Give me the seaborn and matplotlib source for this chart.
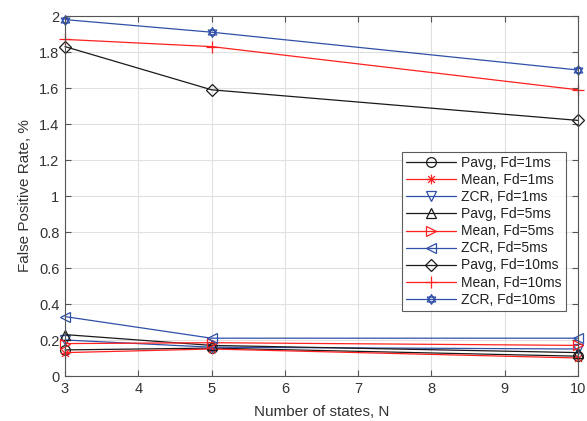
import matplotlib
matplotlib.use("Agg")
import matplotlib.pyplot as plt
from matplotlib.path import Path
import seaborn as sns
import pandas as pd

N = [3, 5, 10]
labels = ["Pavg, Fd=1ms", "Mean, Fd=1ms", "ZCR, Fd=1ms",
          "Pavg, Fd=5ms", "Mean, Fd=5ms", "ZCR, Fd=5ms",
          "Pavg, Fd=10ms", "Mean, Fd=10ms", "ZCR, Fd=10ms"]
pavg_1 = [0.145, 0.155, 0.11]
mean_1 = [0.13, 0.15, 0.10]
zcr_1 = [0.20, 0.16, 0.15]
pavg_5 = [0.23, 0.17, 0.13]
mean_5 = [0.18, 0.185, 0.17]
zcr_5 = [0.33, 0.21, 0.21]
pavg_10 = [1.83, 1.59, 1.42]
mean_10 = [1.87, 1.83, 1.59]
zcr_10 = [1.98, 1.91, 1.70]
series = [pavg_1, mean_1, zcr_1, pavg_5, mean_5, zcr_5, pavg_10, mean_10, zcr_10]

BLACK = "#1a1a1a"
RED = "#ff2020"
BLUE = "#3050a8"
colors = [BLACK, RED, BLUE] * 3

# hexagram marker (two overlapping triangles)
up = [(0, 1), (-0.866, -0.5), (0.866, -0.5), (0, 1)]
dn = [(0, -1), (-0.866, 0.5), (0.866, 0.5), (0, -1)]
hexagram = Path(up + dn,
                [Path.MOVETO, Path.LINETO, Path.LINETO, Path.CLOSEPOLY] * 2)
# asterisk marker (MATLAB '*')
d = 0.707
asterisk = Path([(-1, 0), (1, 0), (0, -1), (0, 1), (-d, -d), (d, d), (-d, d), (d, -d)],
                [Path.MOVETO, Path.LINETO] * 4)
markers = ["o", asterisk, "v", "^", ">", "<", "D", "+", hexagram]
msizes = [7, 7, 7, 7, 7, 7, 6, 8, 7]

sns.set_style("white")
plt.rcParams['font.family'] = ['Liberation Sans', 'DejaVu Sans']

fig = plt.figure(figsize=(5.87, 4.21), dpi=100)
ax = fig.add_axes([65 / 587, 1 - 376 / 421, (578 - 65) / 587, (376 - 16) / 421])

for vals, lab, c, m, ms in zip(series, labels, colors, markers, msizes):
    df = pd.DataFrame({"N": N, "FPR": vals})
    sns.lineplot(data=df, x="N", y="FPR", ax=ax, color=c, marker=m,
                 markersize=ms, markerfacecolor="none", markeredgecolor=c,
                 markeredgewidth=0.9, linewidth=0.9, label=lab, clip_on=False)

ax.set_xlim(3, 10)
ax.set_ylim(0, 2)
ax.set_xticks(range(3, 11))
ax.set_yticks([0, 0.2, 0.4, 0.6, 0.8, 1.0, 1.2, 1.4, 1.6, 1.8, 2.0])
ax.set_yticklabels(["0", "0.2", "0.4", "0.6", "0.8", "1", "1.2", "1.4", "1.6", "1.8", "2"])
ax.grid(True, color="#e0e0e0", linewidth=0.8)
ax.set_axisbelow(True)
for s in ax.spines.values():
    s.set_color("#555555")
    s.set_linewidth(0.8)
ax.tick_params(direction="in", length=4, color="#555555", labelcolor="#333333",
               labelsize=10.5, top=True, right=True, bottom=True, left=True,
               pad=4)
ax.set_xlabel("Number of states, N", fontsize=11, color="#333333", labelpad=7)
ax.set_ylabel("False Positive Rate, %", fontsize=11, color="#333333", labelpad=5)

leg = ax.legend(loc="upper left", bbox_to_anchor=((402 - 65) / 513, (376 - 152) / 360),
                fontsize=10, frameon=True, fancybox=False, handlelength=3.6,
                labelspacing=0.22, borderpad=0.3, handletextpad=0.35,
                borderaxespad=0)
leg.get_frame().set_edgecolor("#333333")
leg.get_frame().set_linewidth(0.8)
for t in leg.get_texts():
    t.set_color("#222222")

fig.savefig("out.png", dpi=100)
